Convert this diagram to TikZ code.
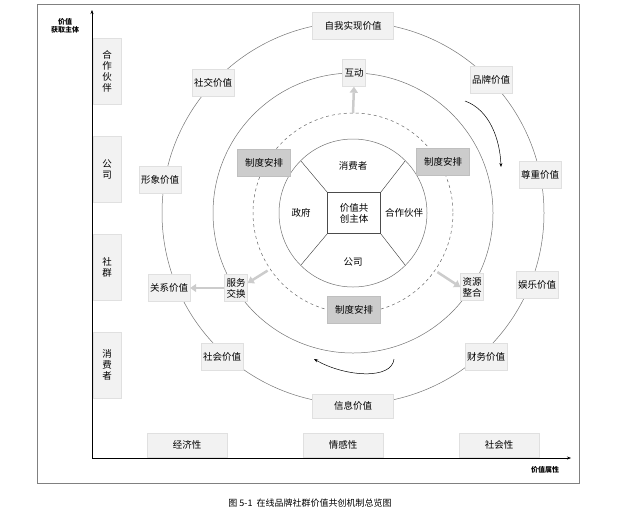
\documentclass[tikz,border=0pt]{standalone}
\usepackage{fontspec}
\newfontfamily\cjk{Noto Sans CJK SC}
\usetikzlibrary{arrows.meta,positioning,calc}

\tikzset{
    valbox/.style={draw=black!12,fill=black!5,font=\cjk\fontsize{9.5}{11}\selectfont,minimum height=27pt,inner sep=2pt,align=center},
    rulebox/.style={valbox,fill=black!20,draw=black!25,minimum width=53pt},
    sidebox/.style={valbox,minimum width=28pt,minimum height=66pt},
    axisbox/.style={valbox,minimum width=80pt,minimum height=24pt},
    ring/.style={draw=black!55,line width=0.5pt},
    fatarrow/.style={draw=black!20,line width=2.5pt,-{Triangle[length=6pt,width=8pt]}},
    turnarrow/.style={draw=black,line width=0.5pt,-{Stealth[length=4pt]}}
}

\begin{document}
\begin{tikzpicture}[x=1pt,y=-1pt]

\useasboundingbox (0,0) rectangle (617,515);
\draw[black!50] (37,4) rectangle (579,483);

% axes
\draw[-{Stealth[length=4pt]}] (92,458) -- (92,10);
\draw[-{Stealth[length=4pt]}] (92,458) -- (571,458);
\node[font=\cjk\bfseries\fontsize{7}{8}\selectfont,align=center] (ylab) at (65,26) {价值\\获取主体};
\node[font=\cjk\bfseries\fontsize{7}{8}\selectfont] (xlab) at (545,470) {价值属性};

% rings
\coordinate (c) at (353,213);
\draw[ring] (c) circle [radius=191];
\draw[ring] (c) circle [radius=140];
\draw[ring,dashed,black!60] (c) circle [radius=100];
\draw[ring] (c) circle [radius=74];

% core
\node[draw=black!70,fill=white,minimum width=53pt,minimum height=41pt,font=\cjk\fontsize{9.5}{11}\selectfont,align=center] (core) at (354,213) {价值共\\创主体};
\foreach \a/\cn in {-45/north east,225/north west,135/south west,45/south east}
{
    \draw[black!80] (core.\cn) -- ($(c)+(\a:74)$);
}
\path[font=\cjk\fontsize{9.5}{11}\selectfont]
    node (xfz) at (353,166) {消费者}
    node (zf) at (301,213) {政府}
    node (hzhb) at (404,213) {合作伙伴}
    node (gs) at (353,262) {公司};

% outer values
\node[valbox,minimum width=81pt] (zwsx) at (353,26) {自我实现价值};
\node[valbox] (shjl) at (213,83) {社交价值};
\node[valbox] (ppjz) at (491,80) {品牌价值};
\node[valbox] (xxjz) at (160,180) {形象价值};
\node[valbox] (zzjz) at (540,175) {尊重价值};
\node[valbox] (gxjz) at (169,288) {关系价值};
\node[valbox] (yljz) at (537,285) {娱乐价值};
\node[valbox] (shhjz) at (222,357) {社会价值};
\node[valbox] (cwjz) at (486,357) {财务价值};
\node[valbox,minimum width=81pt,minimum height=24pt] (xxijz) at (353,406) {信息价值};

% middle ring
\node[valbox] (hd) at (354,73) {互动};
\node[valbox] (fwjh) at (236,288) {服务\\交换};
\node[valbox] (zyzh) at (472,287) {资源\\整合};

% rules on dashed ring
\node[rulebox] (zd1) at (264,163) {制度安排};
\node[rulebox] (zd2) at (443,162) {制度安排};
\node[rulebox] (zd3) at (354,310) {制度安排};

% side and bottom
\node[sidebox] (s1) at (107,71) {合\\作\\伙\\伴};
\node[sidebox] (s2) at (107,169) {公\\司};
\node[sidebox] (s3) at (107,267) {社\\群};
\node[sidebox] (s4) at (107,365) {消\\费\\者};
\node[axisbox] (b1) at (187,445) {经济性};
\node[axisbox] (b2) at (343,445) {情感性};
\node[axisbox] (b3) at (499,445) {社会性};

% arrows
\coordinate (up) at ($(c)+(270:100)$);
\coordinate (dl) at ($(c)+(146:103)$);
\coordinate (dr) at ($(c)+(35:103)$);
\draw[fatarrow] (up) -- (hd.south);
\draw[fatarrow] (dl) -- ($(fwjh.east)+(0,-5)$);
\draw[fatarrow] (dr) -- (zyzh.west);
\draw[fatarrow] (fwjh.west |- gxjz.east) -- (gxjz.east);
\coordinate (t1) at (465,101);
\coordinate (t2) at (501,167);
\coordinate (t3) at (394,359);
\coordinate (t4) at (314,359);
\draw[turnarrow] (t1) .. controls (490,110) and (500,140) .. (t2);
\draw[turnarrow] (t3) .. controls (392,380) and (345,377) .. (t4);

\node[font=\cjk\fontsize{9}{10}\selectfont] (cap) at (310,503) {图 5-1\ \ 在线品牌社群价值共创机制总览图};

\end{tikzpicture}
\end{document}
